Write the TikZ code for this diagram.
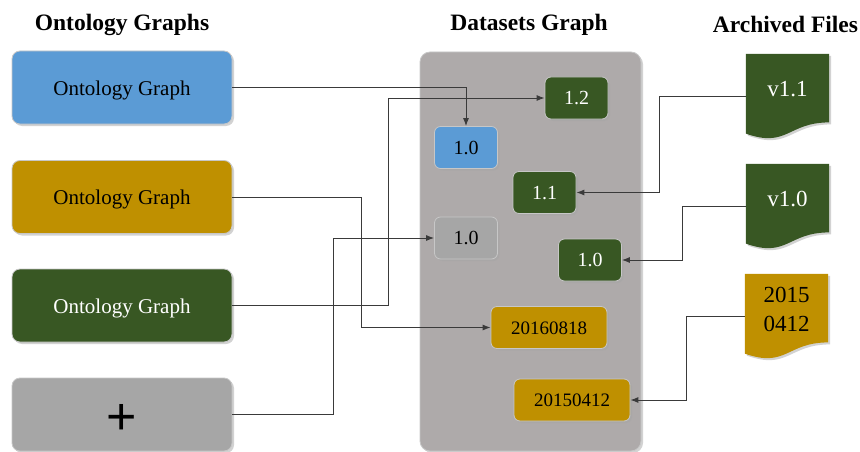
\documentclass[tikz,border=0pt]{standalone}
\usepackage{fontspec}
\setmainfont{Liberation Serif}
\newfontfamily\plusfont{Liberation Sans}
\usetikzlibrary{arrows.meta,shadows,backgrounds}
\definecolor{ontblue}{HTML}{5B9BD5}
\definecolor{ontgold}{HTML}{BF9000}
\definecolor{ontgreen}{HTML}{385723}
\definecolor{ontgray}{HTML}{A6A6A6}
\definecolor{dsgray}{HTML}{AEAAAA}
\definecolor{linkgray}{HTML}{3A3A3A}
\begin{document}
\begin{tikzpicture}[x=1pt,y=-1pt]
    \tikzset{Onto/.style={%
            shape=rectangle,%
            rounded corners=8pt,%
            draw=white!78!black,%
            line width=0.8pt,%
            minimum width=220pt,%
            minimum height=73pt,%
            text height=15.5pt,%
            text depth=0pt,%
            drop shadow={shadow xshift=2pt,shadow yshift=-2pt,fill=black!35},%
            font=\fontsize{21}{25}\selectfont,%
        },
        Version/.style={%
            Onto,%
            rounded corners=6pt,%
            minimum width=63pt,%
            minimum height=42pt,%
            text height=13.6pt,%
            font=\fontsize{20}{24}\selectfont,%
        },
        Dated/.style={%
            Version,%
            minimum width=116pt,%
            text height=13pt,%
            font=\fontsize{19}{23}\selectfont,%
        },
        Archive/.style={%
            shape=rectangle,%
            inner sep=0pt,%
            minimum width=83pt,%
            minimum height=85pt,%
            text depth=15pt,%
            align=center,%
            font=\fontsize{23}{29}\selectfont,%
        },
        Heading/.style={%
            anchor=base,%
            font=\bfseries\fontsize{23.5}{28}\selectfont,%
        },
        Link/.style={%
            draw=linkgray,%
            line width=0.9pt,%
            -{Latex[length=8pt,width=6pt]},%
        }}
    \useasboundingbox (0,0) rectangle (860,452);

    \node[Heading] (h1) at (122,31) {Ontology Graphs};
    \node[Heading] (h2) at (529,31) {Datasets Graph};
    \node[Heading] (h3) at (785.5,33) {Archived Files};

    \node[Onto, fill=ontblue] (og1) at (122,87.5) {Ontology Graph};
    \node[Onto, fill=ontgold] (og2) at (122,197) {Ontology Graph};
    \node[Onto, fill=ontgreen, text=white] (og3) at (122,305.5) {Ontology Graph};
    \node[Onto, fill=ontgray, text height=39pt, font=\plusfont\fontsize{52}{56}\selectfont] (ogp) at (122,414.5) {+};

    \node[Onto, fill=dsgray, rounded corners=10pt, minimum width=221pt, minimum height=399pt] (dsg) at (530.5,251.5) {};

    \node[Version, fill=ontgreen, text=white] (g12) at (576.5,98) {1.2};
    \node[Version, fill=ontblue] (b10) at (466,147.5) {1.0};
    \node[Version, fill=ontgreen, text=white] (g11) at (544.5,192.5) {1.1};
    \node[Version, fill=ontgray] (gr10) at (466,238) {1.0};
    \node[Version, fill=ontgreen, text=white] (g10) at (590,260) {1.0};
    \node[Dated, fill=ontgold] (d16) at (549,327.5) {20160818};
    \node[Dated, fill=ontgold] (d15) at (572,400) {20150412};

    \node[Archive, text=white] (v11) at (787.5,96.5) {v1.1};
    \node[Archive, text=white] (v10) at (787.5,206.5) {v1.0};
    \node[Archive] (a15) at (786.5,316.5) {2015\\0412};

    % file shapes with wavy bottom
    \begin{scope}[on background layer]
        \foreach \f/\c in {v11/ontgreen,v10/ontgreen,a15/ontgold}
            \fill[\c, drop shadow={shadow xshift=2pt,shadow yshift=-2pt,fill=black!35}]
                (\f.north west) -- (\f.north east) -- ([yshift=16.8pt]\f.south east)
                .. controls ([yshift=16.8pt]\f.south) and ([yshift=-9.2pt]\f.south)
                .. ([yshift=5.6pt]\f.south west) -- cycle;
    \end{scope}

    \draw[Link] (og1.east) -| (b10.north);
    \draw[Link] (og3.east) -- ++(156,0) |- (g12.west);
    \draw[Link] (og2.east) -- ++(129,0) |- (d16.west);
    \draw[Link] (ogp.east) -- ++(101,0) |- (gr10.west);
    \draw[Link] (v11.west) -- ++(-86,0) |- (g11.east);
    \draw[Link] (v10.west) -- ++(-63,0) |- (g10.east);
    \draw[Link] (a15.west) -- ++(-58,0) |- (d15.east);
\end{tikzpicture}
\end{document}
